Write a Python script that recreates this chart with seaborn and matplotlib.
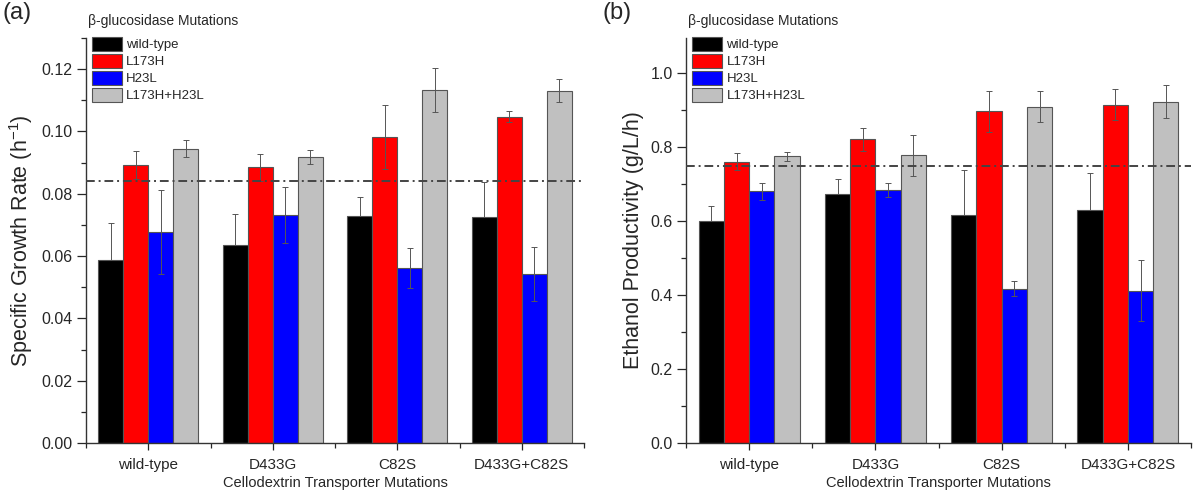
import matplotlib
matplotlib.use('Agg')
import matplotlib.pyplot as plt
import matplotlib.ticker as mticker
import seaborn as sns
import pandas as pd

# categories
transporters = ['wild-type', 'D433G', 'C82S', 'D433G+C82S']
bglu_mutations = ['wild-type', 'L173H', 'H23L', 'L173H+H23L']
bar_colors = ['#000000', '#ff0000', '#0000ff', '#c0c0c0']

# (a) specific growth rate, one list per beta-glucosidase mutation
growth_wt = [0.0586, 0.0634, 0.0729, 0.0724]
growth_l173h = [0.0891, 0.0885, 0.0982, 0.1048]
growth_h23l = [0.0677, 0.0731, 0.0561, 0.0543]
growth_double = [0.0945, 0.0918, 0.1133, 0.1130]
growth_wt_err = [0.0120, 0.0102, 0.0062, 0.0114]
growth_l173h_err = [0.0045, 0.0043, 0.0102, 0.0019]
growth_h23l_err = [0.0134, 0.0090, 0.0065, 0.0087]
growth_double_err = [0.0027, 0.0021, 0.0072, 0.0037]
growth_ref = 0.084

# (b) ethanol productivity
ethanol_wt = [0.600, 0.672, 0.617, 0.630]
ethanol_l173h = [0.761, 0.821, 0.897, 0.915]
ethanol_h23l = [0.681, 0.685, 0.417, 0.412]
ethanol_double = [0.775, 0.778, 0.909, 0.923]
ethanol_wt_err = [0.042, 0.042, 0.120, 0.099]
ethanol_l173h_err = [0.023, 0.031, 0.055, 0.042]
ethanol_h23l_err = [0.023, 0.019, 0.020, 0.082]
ethanol_double_err = [0.012, 0.056, 0.042, 0.044]
ethanol_ref = 0.75


def make_frame(series):
    rows = []
    for name, vals in zip(bglu_mutations, series):
        for t, v in zip(transporters, vals):
            rows.append({'transporter': t, 'bglu': name, 'value': v})
    return pd.DataFrame(rows)


def draw_panel(ax, series, errs, ref, ylim, major, minor, ylabel, fmt):
    df = make_frame(series)
    sns.barplot(data=df, x='transporter', y='value', hue='bglu',
                order=transporters, hue_order=bglu_mutations,
                palette=bar_colors, saturation=1, width=0.8, errorbar=None,
                edgecolor='#555555', linewidth=0.8, ax=ax)

    # error bars; the black series sits behind its bars (hidden inside)
    for i, (cont, err) in enumerate(zip(ax.containers, errs)):
        xs = [p.get_x() + p.get_width() / 2 for p in cont]
        ys = [p.get_height() for p in cont]
        ax.errorbar(xs, ys, yerr=err, fmt='none', ecolor='#555555',
                    elinewidth=0.7, capsize=2.5, capthick=0.7,
                    zorder=0.5 if i == 0 else 5)

    ax.axhline(ref, color='#444444', lw=1.4, ls=(0, (4.5, 2, 1, 2)), zorder=6)

    ax.set_xlim(-0.5, 3.5)
    ax.set_ylim(*ylim)
    ax.yaxis.set_major_locator(mticker.MultipleLocator(major))
    ax.yaxis.set_minor_locator(mticker.MultipleLocator(minor))
    ax.yaxis.set_major_formatter(mticker.FormatStrFormatter(fmt))
    ax.xaxis.set_minor_locator(mticker.FixedLocator([-0.5, 0.5, 1.5, 2.5, 3.5]))
    ax.tick_params(axis='y', which='major', length=6.5, width=0.9, labelsize=11.5, pad=3)
    ax.tick_params(axis='y', which='minor', length=3.5, width=0.9)
    ax.tick_params(axis='x', which='major', length=5, width=0.9, labelsize=11, pad=6)
    ax.tick_params(axis='x', which='minor', length=3.5, width=0.9)

    for side in ['top', 'right']:
        ax.spines[side].set_visible(False)
    for side in ['left', 'bottom']:
        ax.spines[side].set_color('#333333')
        ax.spines[side].set_linewidth(1.0)

    ax.set_xlabel('Cellodextrin Transporter Mutations', fontsize=10.5, labelpad=3)
    ax.set_ylabel(ylabel, fontsize=15.5, labelpad=5)

    handles, labels = ax.get_legend_handles_labels()
    ax.legend(handles, labels, loc='upper left', bbox_to_anchor=(0.012, 1.003),
              frameon=False, fontsize=9.5,
              handlelength=2.3, handleheight=1.25, labelspacing=0.2,
              handletextpad=0.3, borderpad=0, borderaxespad=0)
    ax.text(0.004, 1.042, 'β-glucosidase Mutations', transform=ax.transAxes,
            fontsize=10, ha='left', va='center')


sns.set_theme(style='ticks')
plt.rcParams['font.family'] = ['Liberation Sans', 'DejaVu Sans']

fig = plt.figure(figsize=(12, 4.98), dpi=100)
ax_a = fig.add_axes([0.0717, 0.1104, 0.4150, 0.8133])
ax_b = fig.add_axes([0.5717, 0.1104, 0.4208, 0.8133])

draw_panel(ax_a,
           [growth_wt, growth_l173h, growth_h23l, growth_double],
           [growth_wt_err, growth_l173h_err, growth_h23l_err, growth_double_err],
           growth_ref, (0, 0.13), 0.02, 0.01,
           r'Specific Growth Rate (h$^{\mathregular{-1}}$)', '%.2f')
draw_panel(ax_b,
           [ethanol_wt, ethanol_l173h, ethanol_h23l, ethanol_double],
           [ethanol_wt_err, ethanol_l173h_err, ethanol_h23l_err, ethanol_double_err],
           ethanol_ref, (0, 1.095), 0.2, 0.1,
           'Ethanol Productivity (g/L/h)', '%.1f')

fig.text(0.002, 0.995, '(a)', fontsize=17, va='top', ha='left')
fig.text(0.502, 0.995, '(b)', fontsize=17, va='top', ha='left')

fig.savefig('out.png', dpi=100)
